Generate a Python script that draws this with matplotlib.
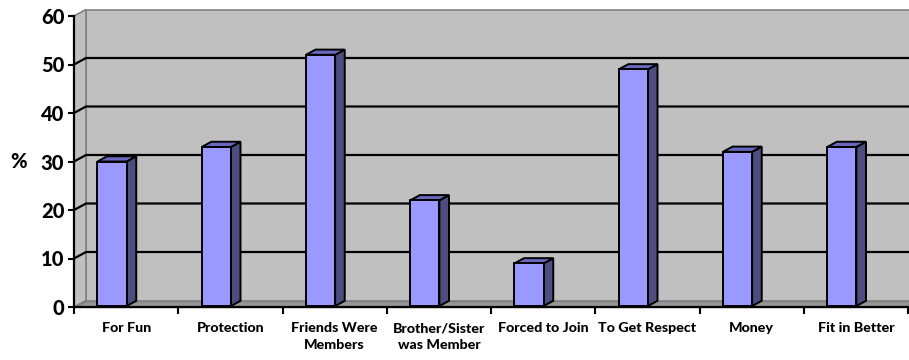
import matplotlib.pyplot as plt
from matplotlib.patches import Polygon
import numpy as np

plt.rcParams['font.family'] = ['Lato', 'DejaVu Sans']

categories = ['For Fun', 'Protection', 'Friends Were\nMembers', 'Brother/Sister\nwas Member',
              'Forced to Join', 'To Get Respect', 'Money', 'Fit in Better']
values = [30, 33, 52, 22, 9, 49, 32, 33]

W, H = 909, 360
fig = plt.figure(figsize=(W / 100, H / 100), dpi=100)
# axes placed on the front plane of the 3d box
ax = fig.add_axes([74 / W, 1 - 307 / H, (908 - 74) / W, (307 - 16) / H])
ax.set_xlim(0, 8)
ax.set_ylim(0, 60)

# depth vector in data units (12 px right, 6.5 px up)
ddx = 12 / 104.25
ddy = 6.5 / 4.85

def poly(pts, fc, ec, lw, z):
    ax.add_patch(Polygon(pts, closed=True, facecolor=fc, edgecolor=ec, linewidth=lw,
                         zorder=z, clip_on=False, joinstyle='miter'))

# walls and floor
poly([(ddx, ddy), (8.3, ddy), (8.3, 60 + ddy), (ddx, 60 + ddy)], '#C0C0C0', '#808080', 1.2, 1)
poly([(0, 0), (ddx, ddy), (ddx, 60 + ddy), (0, 60)], '#C0C0C0', '#808080', 1.2, 1)
poly([(0, 0), (8.3, 0), (8.3, ddy), (ddx, ddy)], '#969696', '#808080', 1.0, 1)

# gridlines
for v in range(10, 60, 10):
    ax.plot([0, ddx, 8.3], [v, v + ddy, v + ddy], color='black', lw=1.6, zorder=2,
            clip_on=False, solid_capstyle='butt')

# bars
d0, d1 = 0.15, 0.95
for i, v in enumerate(values):
    x0 = i + 0.225 - d0 * ddx
    x1 = i + 0.505 - d0 * ddx
    ox, oy = d0 * ddx, d0 * ddy
    sx, sy = (d1 - d0) * ddx, (d1 - d0) * ddy
    yb, yt = oy, v
    xa, xb = x0 + ox, x1 + ox
    poly([(xb, yb), (xb + sx, yb + sy), (xb + sx, yt + sy), (xb, yt)], '#4D4D80', 'black', 1.4, 5)
    poly([(xa, yt), (xb, yt), (xb + sx, yt + sy), (xa + sx, yt + sy)], '#6868BE', 'black', 1.4, 5)
    poly([(xa, yb), (xb, yb), (xb, yt), (xa, yt)], '#9999FF', 'black', 1.4, 6)

# axes
for s in ['top', 'right']:
    ax.spines[s].set_visible(False)
for s in ['left', 'bottom']:
    ax.spines[s].set_linewidth(1.6)
    ax.spines[s].set_zorder(7)
ax.set_facecolor('none')

ax.set_yticks(np.arange(0, 61, 10))
ax.tick_params(axis='y', direction='out', length=4.5, width=1.5, pad=2.5, labelsize=14.5)
for t in ax.get_yticklabels():
    t.set_fontweight('black')

ax.set_xticks(np.arange(0, 9))
ax.set_xticklabels([])
ax.tick_params(axis='x', which='major', direction='out', length=5, width=1.5)
ax.set_xticks(np.arange(8) + 0.5, minor=True)
ax.set_xticklabels(categories, minor=True, fontsize=10.3, fontweight='black', linespacing=1.45)
ax.tick_params(axis='x', which='minor', length=0, pad=11)

fig.text(18.5 / W, 1 - 162 / H, '%', fontsize=14.5, fontweight='black', ha='center', va='center')

fig.savefig('out.png', dpi=100)
